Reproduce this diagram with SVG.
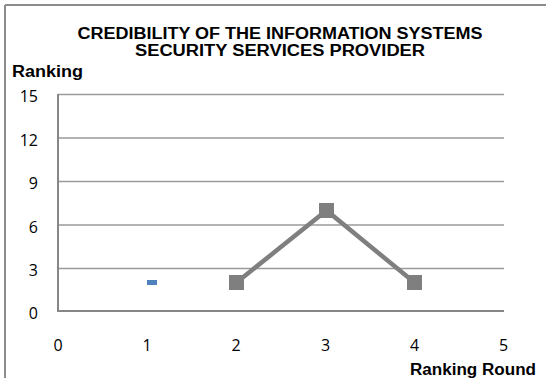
<svg xmlns="http://www.w3.org/2000/svg" width="546" height="378" viewBox="0 0 546 378">
  <style>
    .frame { stroke: #8c8c8c; stroke-width: 2; fill: none; }
    .grid { stroke: #9a9a9a; stroke-width: 1.5; fill: none; }
    .axis { stroke: #868686; stroke-width: 2; fill: none; }
    .title { font-family: "Liberation Sans", Arial, sans-serif; font-weight: bold; font-size: 16px; fill: #000; }
    .tick { font-family: "Open Sans", "Liberation Sans", sans-serif; font-size: 16px; fill: #000; }
    .series { stroke: #7f7f7f; stroke-width: 4.5; fill: none; stroke-linejoin: miter; }
    .marker { fill: #7f7f7f; }
  </style>
  <rect width="546" height="378" fill="#ffffff"/>
  <g id="frame">
    <line class="frame" x1="5" y1="5" x2="546" y2="5"/>
    <line class="frame" x1="5" y1="5" x2="5" y2="378"/>
  </g>
  <g id="title">
    <text class="title" x="280" y="38.5" text-anchor="middle" textLength="405" lengthAdjust="spacingAndGlyphs">CREDIBILITY OF THE INFORMATION  SYSTEMS</text>
    <text class="title" x="280" y="56" text-anchor="middle" textLength="290" lengthAdjust="spacingAndGlyphs">SECURITY SERVICES PROVIDER</text>
  </g>
  <g id="axis-titles">
    <text class="title" x="12" y="77" textLength="71" lengthAdjust="spacingAndGlyphs">Ranking</text>
    <text class="title" x="410" y="375" textLength="126" lengthAdjust="spacingAndGlyphs">Ranking Round</text>
  </g>
  <g id="gridlines">
    <line class="grid" x1="58" y1="94.5" x2="504" y2="94.5"/>
    <line class="grid" x1="58" y1="138" x2="504" y2="138"/>
    <line class="grid" x1="58" y1="181.5" x2="504" y2="181.5"/>
    <line class="grid" x1="58" y1="225" x2="504" y2="225"/>
    <line class="grid" x1="58" y1="268.5" x2="504" y2="268.5"/>
  </g>
  <g id="axes">
    <line class="axis" x1="58" y1="94" x2="58" y2="312"/>
    <line class="axis" x1="57" y1="311" x2="504" y2="311"/>
  </g>
  <g id="y-labels" class="tick" text-anchor="end">
    <text x="38" y="102">15</text>
    <text x="38" y="145.5">12</text>
    <text x="38" y="189">9</text>
    <text x="38" y="232.5">6</text>
    <text x="38" y="276">3</text>
    <text x="38" y="318.5">0</text>
  </g>
  <g id="x-labels" class="tick" text-anchor="middle">
    <text x="58" y="351">0</text>
    <text x="147" y="351">1</text>
    <text x="236" y="351">2</text>
    <text x="325.5" y="351">3</text>
    <text x="414.5" y="351">4</text>
    <text x="503.5" y="351">5</text>
  </g>
  <g id="connectors">
    <polyline class="series" points="236.5,282.5 326.5,210.5 414.5,282.5"/>
  </g>
  <g id="point-1">
    <rect x="147" y="280" width="10" height="5" fill="#4f81bd"/>
  </g>
  <g id="point-2">
    <rect class="marker" x="229" y="275" width="15" height="15"/>
  </g>
  <g id="point-3">
    <rect class="marker" x="319" y="203" width="15" height="15"/>
  </g>
  <g id="point-4">
    <rect class="marker" x="407" y="275" width="15" height="15"/>
  </g>
</svg>
